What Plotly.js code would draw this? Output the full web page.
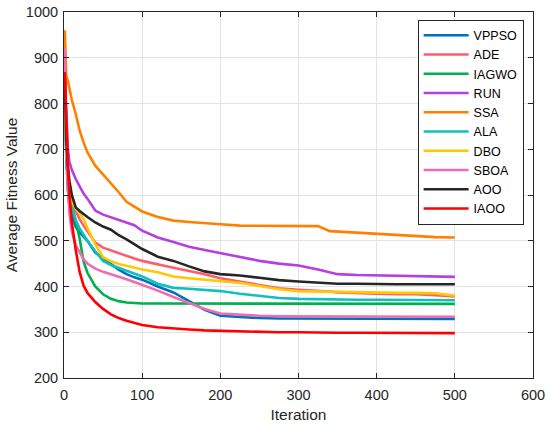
<!DOCTYPE html>
<html>
<head>
<meta charset="utf-8">
<script src="https://cdn.plot.ly/plotly-3.0.1.min.js"></script>
<style>html,body{margin:0;padding:0;background:#fff;}#chart{width:550px;height:427px;}</style>
</head>
<body>
<div id="chart"></div>
<script>
var iterations = [1, 3, 5, 7, 10, 15, 20, 25, 30, 40, 50, 60, 70, 80, 90, 100, 120, 140, 160, 180, 200, 225, 250, 275, 300, 325, 340, 350, 375, 400, 425, 450, 475, 500];

var VPPSO = [830, 680, 610, 575, 555, 530, 518, 508, 500, 474, 461, 448, 437, 427, 420, 415, 400, 387, 368, 349, 336, 333, 331, 330, 330, 330, 330, 330, 329, 329, 329, 329, 329, 329];
var ADE   = [850, 720, 650, 610, 585, 565, 547, 533, 520, 496, 485, 479, 473, 466, 461, 456, 448, 441, 434, 427, 418, 411, 403, 396, 393, 391, 389, 387, 385, 384, 383, 383, 381, 378];
var IAGWO = [850, 700, 640, 600, 580, 540, 505, 455, 430, 400, 383, 373, 368, 365, 364, 363, 363, 363, 363, 363, 363, 363, 363, 363, 363, 363, 363, 363, 362, 362, 362, 362, 362, 362];
var RUN   = [860, 760, 700, 672, 655, 635, 618, 603, 592, 566, 557, 551, 545, 540, 534, 522, 507, 497, 487, 480, 473, 465, 456, 450, 446, 437, 430, 427, 425, 424, 423, 422, 422, 421];
var SSA   = [960, 860, 849, 830, 808, 777, 741, 715, 693, 664, 645, 625, 606, 585, 575, 564, 552, 544, 541, 538, 536, 533, 533, 532, 532, 532, 521, 520, 518, 515, 513, 511, 508, 507];
var ALA   = [840, 690, 630, 600, 575, 545, 527, 512, 500, 477, 456, 447, 441, 435, 428, 422, 406, 397, 395, 393, 390, 384, 379, 375, 373, 372, 372, 371, 371, 371, 371, 370, 370, 370];
var DBO   = [840, 700, 640, 605, 585, 570, 560, 548, 528, 492, 464, 455, 449, 445, 441, 437, 431, 422, 418, 415, 413, 408, 401, 394, 390, 389, 388, 388, 387, 387, 386, 386, 385, 380];
var SBOA  = [920, 720, 620, 560, 520, 490, 475, 460, 450, 439, 432, 427, 421, 416, 410, 404, 391, 377, 364, 351, 341, 338, 336, 335, 335, 335, 335, 335, 334, 334, 334, 334, 334, 334];
var AOO   = [865, 720, 660, 630, 600, 573, 565, 558, 552, 540, 531, 524, 512, 503, 493, 482, 465, 456, 444, 433, 427, 424, 419, 414, 411, 408, 407, 406, 406, 405, 405, 405, 405, 405];
var IAOO  = [869, 740, 660, 600, 540, 480, 432, 402, 386, 366, 351, 339, 331, 325, 320, 316, 311, 308, 306, 304, 303, 302, 301, 300, 300, 299, 299, 299, 299, 299, 298, 298, 298, 298];

var seriesNames = ['VPPSO', 'ADE', 'IAGWO', 'RUN', 'SSA', 'ALA', 'DBO', 'SBOA', 'AOO', 'IAOO'];
var seriesValues = [VPPSO, ADE, IAGWO, RUN, SSA, ALA, DBO, SBOA, AOO, IAOO];
var seriesColors = ['#0072BD', '#FF5C6C', '#00B050', '#B53FE0', '#FF8000', '#10C0C0', '#FFC800', '#F26BB0', '#262626', '#FF0000'];

var xTicks = [0, 100, 200, 300, 400, 500, 600];
var yTicks = [200, 300, 400, 500, 600, 700, 800, 900, 1000];

var traces = seriesNames.map(function (n, i) {
  return {
    x: iterations, y: seriesValues[i], name: n, type: 'scatter', mode: 'lines',
    line: {color: seriesColors[i], width: 2.6}
  };
});

var FONT = 'Liberation Sans, Arial, sans-serif';
var axisCommon = {
  showgrid: true, gridcolor: '#e3e3e3', gridwidth: 1,
  showline: true, linecolor: '#262626', linewidth: 1, mirror: 'ticks',
  ticks: 'inside', ticklen: 5, tickcolor: '#262626',
  zeroline: false, tickfont: {family: FONT, size: 14.5, color: '#262626'}
};

var layout = {
  width: 550, height: 427,
  margin: {l: 64, r: 17, t: 12, b: 49},
  paper_bgcolor: '#fff', plot_bgcolor: '#fff',
  font: {family: FONT, color: '#262626'},
  xaxis: Object.assign({}, axisCommon, {
    range: [0, 600], tickvals: xTicks, ticktext: xTicks.map(String),
    ticklabelstandoff: 4,
    title: {text: 'Iteration', font: {family: FONT, size: 15.5, color: '#262626'}, standoff: 6}
  }),
  yaxis: Object.assign({}, axisCommon, {
    range: [200, 1000], tickvals: yTicks, ticktext: yTicks.map(String),
    ticklabelstandoff: 2,
    title: {text: 'Average Fitness Value', font: {family: FONT, size: 15.5, color: '#262626'}, standoff: 4}
  }),
  showlegend: true,
  legend: {
    x: 0.98, y: 0.979, xanchor: 'right', yanchor: 'top',
    bgcolor: '#fff', bordercolor: '#262626', borderwidth: 1,
    font: {family: FONT, size: 12.5, color: '#000'},
    itemwidth: 45,
    tracegroupgap: 0, traceorder: 'normal'
  }
};

Plotly.newPlot('chart', traces, layout, {staticPlot: true, displayModeBar: false});
</script>
</body>
</html>
